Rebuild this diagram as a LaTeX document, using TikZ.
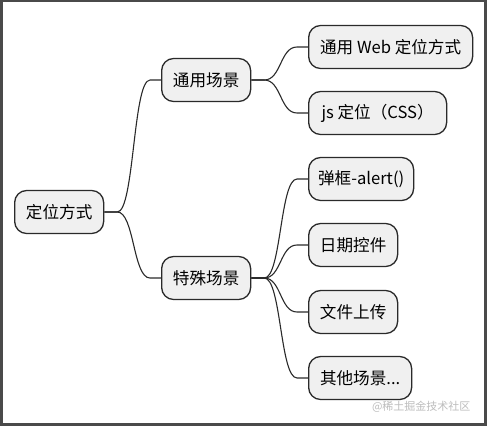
\documentclass[tikz,border=0pt]{standalone}
\usepackage{fontspec}
\setmainfont{Noto Sans CJK SC}
\usetikzlibrary{calc}
\definecolor{boxfill}{HTML}{F0F0F0}
\definecolor{boxline}{HTML}{2A2A2A}
\definecolor{framecol}{HTML}{4A4A4A}
\definecolor{wmark}{HTML}{BDBDBD}
\tikzset{
  mbox/.style={draw=boxline, fill=boxfill, line width=1.3pt, rounded corners=12pt,
    minimum height=43pt, inner xsep=8pt, font=\fontsize{16.6}{19}\selectfont, anchor=west},
  conn/.style={draw=boxline, line width=1.1pt},
}
\newcommand{\branch}[2]{%
  \draw[conn] (#1.east) -- ++(13,0) coordinate (tmpa)
    .. controls +(17,0) and +(-17,0) .. ($(#2.west)+(-11,0)$) -- (#2.west);}
\begin{document}
\begin{tikzpicture}[x=1pt,y=-1pt]
\useasboundingbox (0,0) rectangle (487,426);
\fill[white] (0,0) rectangle (487,426);
\draw[framecol, line width=3pt] (1.5,0.5) rectangle (485.5,424.5);
% nodes
\node[mbox, minimum width=89pt] (root) at (14,212) {定位方式};
\node[mbox, minimum width=89pt] (gen) at (161,80) {通用场景};
\node[mbox, minimum width=89pt] (spec) at (161,278) {特殊场景};
\node[mbox, minimum width=164pt] (web) at (308,47) {通用 Web 定位方式};
\node[mbox, minimum width=138pt] (js) at (308,113) {js 定位（CSS）};
\node[mbox, minimum width=105pt] (alert) at (308,179) {弹框-alert()};
\node[mbox, minimum width=89pt] (date) at (308,245) {日期控件};
\node[mbox, minimum width=89pt] (upload) at (308,312) {文件上传};
\node[mbox, minimum width=103pt] (other) at (308,378) {其他场景...};
% connectors
\branch{root}{gen}
\branch{root}{spec}
\branch{gen}{web}
\branch{gen}{js}
\branch{spec}{alert}
\branch{spec}{date}
\branch{spec}{upload}
\branch{spec}{other}
% watermark
\node[text=wmark, font=\fontsize{11}{13}\selectfont, anchor=east] (wm) at (474,407) {@稀土掘金技术社区};
\end{tikzpicture}
\end{document}
